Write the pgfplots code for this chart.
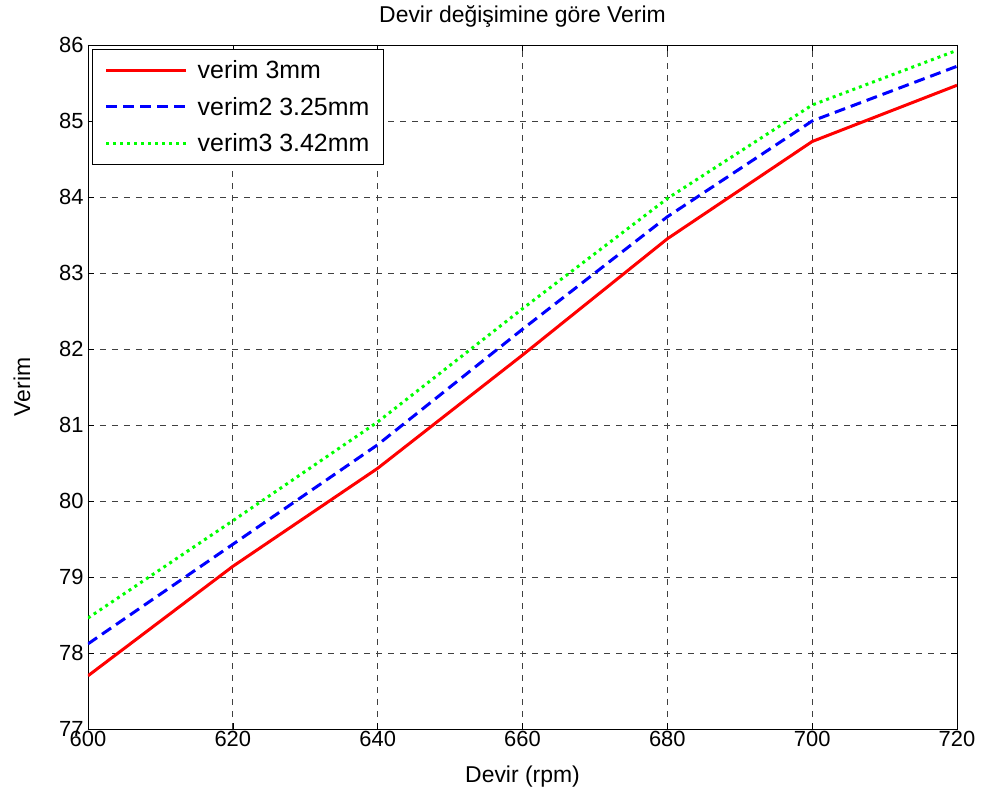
\documentclass[border=0pt]{standalone}
\usepackage{fontspec}
\setmainfont{Liberation Sans}
\usepackage{pgfplots}
\pgfplotsset{compat=1.18}

\begin{document}
\begin{tikzpicture}[x=1bp,y=1bp]
\path[use as bounding box] (-88,-78) rectangle (900,729);
\begin{axis}[
  at={(0,0)}, anchor=south west,
  scale only axis,
  width=869bp, height=684bp,
  xmin=600, xmax=720, ymin=77, ymax=86,
  xtick={600,620,...,720},
  ytick={77,78,...,86},
  font=\fontsize{22}{26}\selectfont,
  /pgf/number format/assume math mode=true,
  /pgf/number format/1000 sep={},
  tick align=inside,
  major tick length=6bp,
  tick style={black, line width=0.6bp},
  axis line style={black, line width=0.8bp},
  grid=major,
  major grid style={black!75, line width=0.7bp, dash pattern=on 6bp off 6bp},
  xticklabel style={yshift=1bp},
  yticklabel style={xshift=-1bp},
  title={Devir değişimine göre Verim},
  title style={at={(axis description cs:0.5,1)}, anchor=center, yshift=23bp,
    font=\fontsize{23}{27}\selectfont},
  xlabel={Devir (rpm)},
  ylabel={Verim},
  label style={font=\fontsize{23}{27}\selectfont},
  xlabel style={at={(axis description cs:0.5,0)}, anchor=center, yshift=-48bp},
  ylabel style={at={(axis description cs:-0.076,0.5)}, anchor=center},
  legend cell align=left,
  legend style={at={(0.005,0.994)}, anchor=north west, draw=black,
    line width=0.8bp, font=\fontsize{25}{29}\selectfont,
    inner xsep=12bp, inner ysep=9bp, row sep=13bp, column sep=8bp},
  legend image code/.code={\draw[#1] (0bp,0bp) -- (80bp,0bp);},
]
\addplot[red, line width=3bp] coordinates {
  (600,77.70) (620,79.14) (640,80.43) (660,81.92) (680,83.45) (700,84.73) (720,85.47)
};
\addlegendentry{verim 3mm}
\addplot[blue, line width=3bp, dash pattern=on 11bp off 6bp] coordinates {
  (600,78.12) (620,79.43) (640,80.74) (660,82.26) (680,83.74) (700,85.00) (720,85.72)
};
\addlegendentry{verim2 3.25mm}
\addplot[green, line width=3bp, dash pattern=on 3bp off 4bp] coordinates {
  (600,78.46) (620,79.74) (640,81.04) (660,82.53) (680,83.98) (700,85.21) (720,85.93)
};
\addlegendentry{verim3 3.42mm}
\end{axis}
\end{tikzpicture}
\end{document}
